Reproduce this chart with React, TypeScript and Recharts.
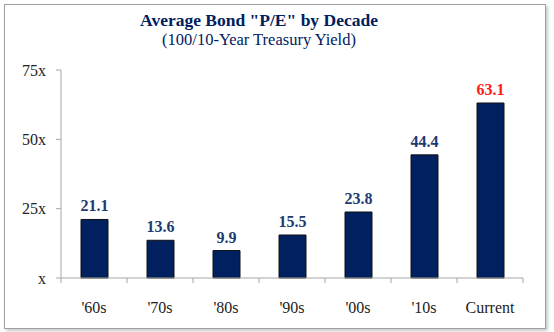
import React from 'react'
import { Bar, BarChart, LabelList, XAxis, YAxis } from 'recharts'

const decades = ["'60s", "'70s", "'80s", "'90s", "'00s", "'10s", 'Current']
const bondPE = [21.1, 13.6, 9.9, 15.5, 23.8, 44.4, 63.1]
const yTicks = [0, 25, 50, 75]

const data = decades.map((name, i) => ({ name, pe: bondPE[i] }))

const NAVY = '#002060'
const LABEL_NAVY = '#1F3A6E'
const FONT = '"Liberation Serif", "DejaVu Serif", serif'
const PLOT_W = 462

const XTick = (props: any) => {
  const { x, y, payload, index } = props
  const half = PLOT_W / decades.length / 2
  const isLast = index === decades.length - 1
  return (
    <g>
      <line x1={x - half} x2={x - half} y1={y - 8} y2={y - 3} stroke='#a6a6a6' />
      {isLast && <line x1={x + half} x2={x + half} y1={y - 8} y2={y - 3} stroke='#a6a6a6' />}
      <text x={x} y={y + 27} textAnchor='middle' fill='#222' fontSize={16} fontFamily={FONT}>
        {payload.value}
      </text>
    </g>
  )
}

const ValueLabel = (props: any) => {
  const { x, y, width, value, index } = props
  return (
    <text
      x={x + width / 2}
      y={y - 8}
      textAnchor='middle'
      fill={index === decades.length - 1 ? '#ff1a1a' : LABEL_NAVY}
      fontSize={16}
      fontWeight='bold'
      fontFamily={FONT}
    >
      {value.toFixed(1)}
    </text>
  )
}

export default function App() {
  return (
    <div style={{ position: 'fixed', left: 0, top: 0, width: 554, height: 332, background: '#fff' }}>
      <div
        style={{
          position: 'absolute',
          left: 4,
          top: 4,
          width: 540,
          height: 323,
          border: '1px solid #a0a0a0',
          boxShadow: '2px 2px 3px #c8c8c8',
        }}
      />
      <div
        style={{
          position: 'absolute',
          left: 0,
          top: 10,
          width: 518,
          textAlign: 'center',
          fontFamily: FONT,
          color: NAVY,
          lineHeight: '20px',
        }}
      >
        <div style={{ fontWeight: 'bold', fontSize: 17.5 }}>Average Bond "P/E" by Decade</div>
        <div style={{ fontSize: 16.5 }}>(100/10-Year Treasury Yield)</div>
      </div>
      <BarChart
        width={554}
        height={332}
        data={data}
        margin={{ top: 70, right: 31, bottom: 24, left: 0 }}
        style={{ position: 'absolute', left: 0, top: 0 }}
      >
        <XAxis
          dataKey='name'
          stroke='#a6a6a6'
          tickLine={false}
          tick={<XTick />}
          height={30}
          interval={0}
        />
        <YAxis
          domain={[0, 75]}
          ticks={yTicks}
          width={61}
          stroke='#a6a6a6'
          tickSize={5}
          tickMargin={10}
          tick={{ fill: '#222', fontSize: 16, fontFamily: FONT }}
          tickFormatter={(v) => (v === 0 ? 'x' : `${v}x`)}
        />
        <Bar dataKey='pe' fill={NAVY} stroke='#111' strokeWidth={1} barSize={27} isAnimationActive={false}>
          <LabelList dataKey='pe' content={<ValueLabel />} />
        </Bar>
      </BarChart>
    </div>
  )
}
